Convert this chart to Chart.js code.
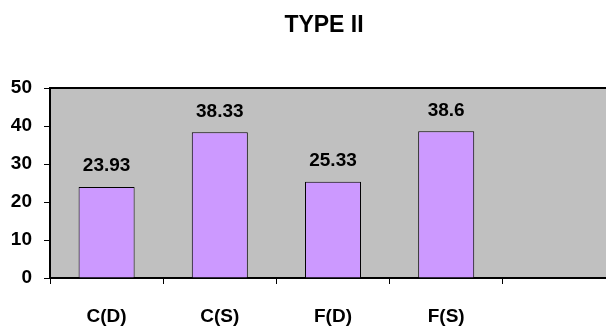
<!DOCTYPE html>
<html>
<head>
<meta charset="utf-8">
<script src="https://cdn.jsdelivr.net/npm/chart.js@4.4.0/dist/chart.umd.min.js"></script>
<style>
html,body{margin:0;padding:0;background:#fff;overflow:hidden;width:606px;height:331px;}
canvas{display:block;}
</style>
</head>
<body>
<canvas id="c" width="620" height="331"></canvas>
<script>
const titleText = 'TYPE II';
const categories = ['C(D)', 'C(S)', 'F(D)', 'F(S)', ''];
const values = [23.93, 38.33, 25.33, 38.6, null];
const yTickStep = 10;
const yMax = 50;

const FONT = "'Liberation Sans', Arial, sans-serif";

const plotBg = {
  id: 'plotBg',
  beforeDraw(chart) {
    const {ctx, chartArea: a} = chart;
    ctx.save();
    ctx.fillStyle = '#C0C0C0';
    ctx.fillRect(a.left, a.top, a.right - a.left, a.bottom - a.top);
    ctx.restore();
  },
  afterDatasetsDraw(chart) {
    const {ctx, chartArea: a} = chart;
    ctx.save();
    ctx.strokeStyle = '#000';
    ctx.lineWidth = 2;
    ctx.beginPath();
    ctx.moveTo(a.left, a.top);
    ctx.lineTo(a.right + 10, a.top);
    ctx.stroke();
    const meta = chart.getDatasetMeta(0);
    ctx.fillStyle = '#000';
    ctx.font = "bold 19px " + FONT;
    ctx.textAlign = 'center';
    ctx.textBaseline = 'middle';
    meta.data.forEach((bar, i) => {
      const v = values[i];
      if (v === null || v === undefined) return;
      ctx.fillText(String(v), bar.x, bar.y - 21);
    });
    // chart title
    ctx.font = "bold 23px " + FONT;
    ctx.fillText(titleText, 324, 26);
    ctx.restore();
  }
};

new Chart(document.getElementById('c'), {
  type: 'bar',
  data: {
    labels: categories,
    datasets: [{
      data: values,
      backgroundColor: '#CC99FF',
      borderColor: '#000',
      borderWidth: 1,
      categoryPercentage: 1,
      barPercentage: 0.495
    }]
  },
  options: {
    responsive: false,
    animation: false,
    devicePixelRatio: 1,
    layout: { padding: { left: 8, right: 4, top: 88, bottom: 0 } },
    plugins: {
      legend: { display: false },
      tooltip: { enabled: false },
      title: { display: false }
    },
    scales: {
      x: {
        afterFit(axis) { axis.height = 53; },
        grid: { display: true, drawOnChartArea: false, color: '#000', tickLength: 6, offset: true },
        border: { display: true, color: '#000', width: 2 },
        ticks: { color: '#000', padding: 21, font: { family: FONT, weight: 'bold', size: 19 }, maxRotation: 0, autoSkip: false }
      },
      y: {
        min: 0,
        max: yMax,
        afterFit(axis) { axis.width = 42; },
        grid: { display: true, drawOnChartArea: false, color: '#000', tickLength: 6 },
        border: { display: true, color: '#000', width: 2 },
        ticks: { color: '#000', stepSize: yTickStep, padding: 12, font: { family: FONT, weight: 'bold', size: 19 } }
      }
    }
  },
  plugins: [plotBg]
});
</script>
</body>
</html>
